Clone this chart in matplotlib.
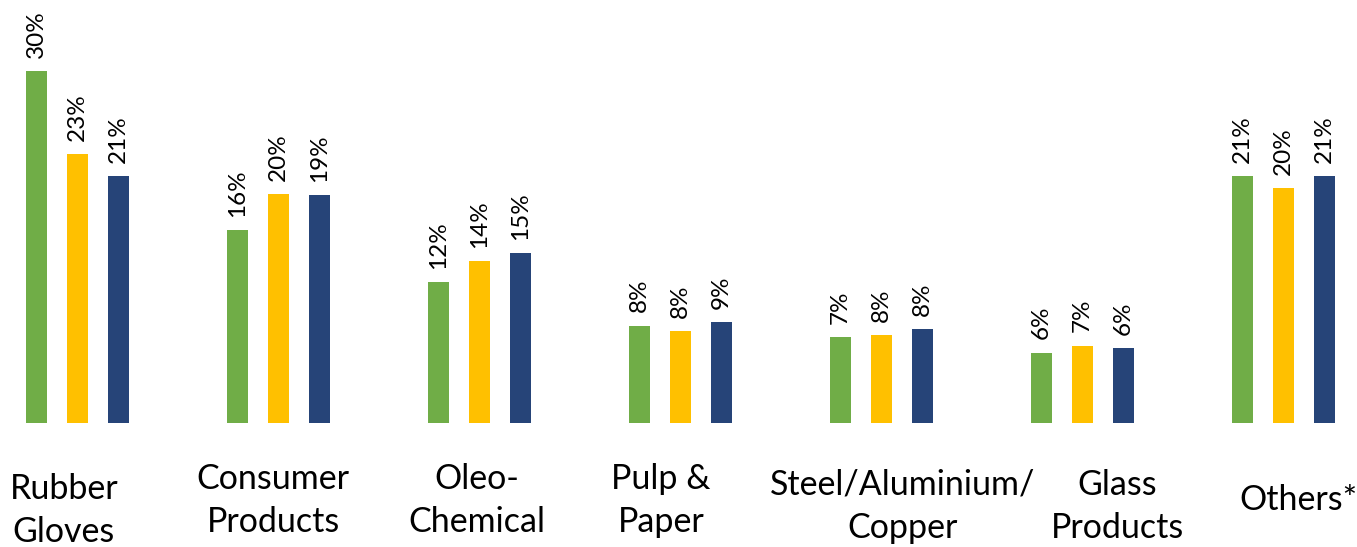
import matplotlib
matplotlib.use("Agg")
import matplotlib.pyplot as plt
import numpy as np

# data (percent)
categories = ["Rubber\nGloves", "Consumer\nProducts", "Oleo-\nChemical", "Pulp &\nPaper",
              "Steel/Aluminium/\nCopper", "Glass\nProducts", "Others*"]
green_vals = [30.0, 16.4, 12.0, 8.3, 7.3, 6.0, 21.0]
yellow_vals = [22.9, 19.5, 13.8, 7.8, 7.5, 6.6, 20.0]
blue_vals = [21.0, 19.4, 14.5, 8.6, 8.0, 6.4, 21.0]
green_labels = ["30%", "16%", "12%", "8%", "7%", "6%", "21%"]
yellow_labels = ["23%", "20%", "14%", "8%", "8%", "7%", "20%"]
blue_labels = ["21%", "19%", "15%", "9%", "8%", "6%", "21%"]

# layout (pixels of the 1357x547 canvas)
W, H = 1357, 547
label_cx = [64, 273, 477, 661, 903, 1117, 1298]
label_base = [499, 489, 489, 489, 495, 495, 510]
line_gap = 43

colors = ["#70AD47", "#FFC000", "#264478"]
font = ["Lato", "DejaVu Sans"]

fig = plt.figure(figsize=(W / 100, H / 100), dpi=100)
ax = fig.add_axes([0, 0, 1, 1])

px_per_unit = 201.0
px_per_pct = 11.74
base_px = 423
first_px = 77.5
ax.set_xlim(-first_px / px_per_unit, (W - first_px) / px_per_unit)
ax.set_ylim(-(H - base_px) / px_per_pct, base_px / px_per_pct)
ax.axis("off")

x = np.arange(len(categories))
off = 41 / px_per_unit
width = 21.5 / px_per_unit

series = [(green_vals, green_labels), (yellow_vals, yellow_labels), (blue_vals, blue_labels)]
for i, (vals, labs) in enumerate(series):
    xs = x + (i - 1) * off
    ax.bar(xs, vals, width=width, color=colors[i], edgecolor="none")
    for xx, v, lab in zip(xs, vals, labs):
        ax.annotate(lab, (xx, v), xytext=(0, 9.5), textcoords="offset points",
                    rotation=90, ha="center", va="bottom", fontsize=17.5,
                    family=font, color="black")

# category labels below the bars
for cat, cx, by in zip(categories, label_cx, label_base):
    for j, line in enumerate(cat.split("\n")):
        fig.text(cx / W, 1 - (by + j * line_gap) / H, line, ha="center", va="baseline",
                 fontsize=24.5, family=font, color="black")

fig.savefig("out.png", dpi=100)
